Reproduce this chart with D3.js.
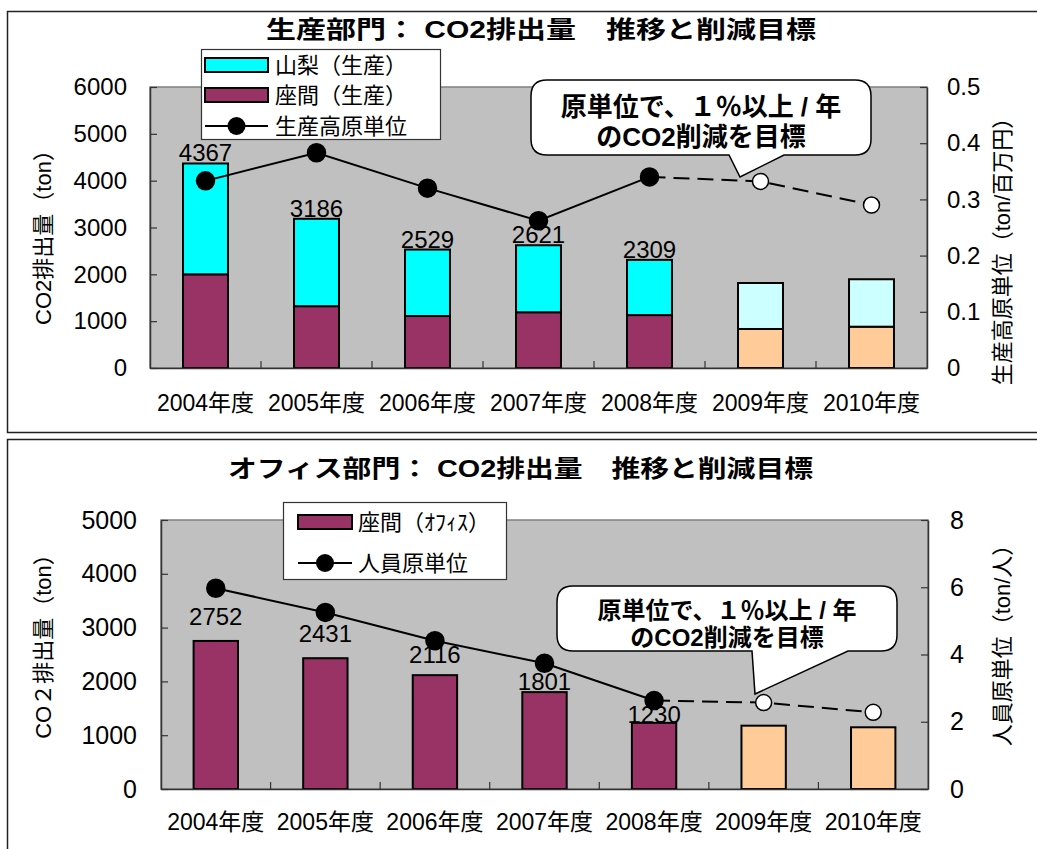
<!DOCTYPE html>
<html><head><meta charset="utf-8">
<script src="https://cdn.jsdelivr.net/npm/d3@7"></script>
<style>
body{margin:0;background:#fff}
text{font-family:"Liberation Sans","Noto Sans CJK JP",sans-serif;}
</style>
</head><body><svg id="c" width="1037" height="849"></svg>
<script>
// ---------------- data ----------------
const categories = ["2004年度","2005年度","2006年度","2007年度","2008年度","2009年度","2010年度"];
const actualYears = 5; // first five are actuals, last two are targets

// 生産部門
const prodZama       = [2000, 1320, 1110, 1190, 1130, 833, 882];
const prodYamanashi  = [2367, 1866, 1419, 1431, 1179, 982, 1013];
const prodLabels     = [4367, 3186, 2529, 2621, 2309];
const prodIntensity  = [0.333, 0.383, 0.320, 0.262, 0.340, 0.332, 0.290];
const prodLeftTicks  = [0,1000,2000,3000,4000,5000,6000];
const prodRightTicks = [0,0.1,0.2,0.3,0.4,0.5];

// オフィス部門
const officeZama      = [2752, 2431, 2116, 1801, 1230, 1177, 1147];
const officeLabels    = [2752, 2431, 2116, 1801, 1230];
const officeIntensity = [5.97, 5.25, 4.41, 3.74, 2.63, 2.57, 2.28];
const officeLeftTicks = [0,1000,2000,3000,4000,5000];
const officeRightTicks= [0,2,4,6,8];

// ---------------- style ----------------
const C = {plot:"#c0c0c0", zama:"#993366", yama:"#00ffff", zamaT:"#ffcc99", yamaT:"#ccffff"};
const officeLabelLift = [16,16,12,2,0];

const svg = d3.select("#c");
svg.append("rect").attr("width",1037).attr("height",849).attr("fill","#fff");
// panel frames
svg.append("rect").attr("x",7.5).attr("y",11.5).attr("width",1040).attr("height",421)
  .attr("fill","none").attr("stroke","#222").attr("stroke-width",1.5);
svg.append("rect").attr("x",7.5).attr("y",439.5).attr("width",1040).attr("height",420)
  .attr("fill","none").attr("stroke","#222").attr("stroke-width",1.5);

function panel(o){
  const g = svg.append("g");
  const x = d3.scaleBand().domain(categories).range([o.l,o.r]);
  const yL = d3.scaleLinear().domain([0,o.yMax]).range([o.b,o.t]);
  const yR = d3.scaleLinear().domain([0,o.rMax]).range([o.b,o.t]);
  const bw = x.bandwidth()*0.405;
  const cx = c => x(c)+x.bandwidth()/2;

  g.append("rect").attr("x",o.l).attr("y",o.t).attr("width",o.r-o.l).attr("height",o.b-o.t)
    .attr("fill",C.plot).attr("stroke","#808080").attr("stroke-width",1.5);

  // stacked bars
  const rows = categories.map((c,i)=>{const r={cat:c,i:i}; o.series.forEach(s=>r[s.key]=s.values[i]); return r;});
  const stack = d3.stack().keys(o.series.map(s=>s.key))(rows);
  stack.forEach((layer,li)=>{
    const s=o.series[li];
    g.selectAll(null).data(layer).join("rect")
      .attr("x",d=>cx(d.data.cat)-bw/2).attr("width",bw)
      .attr("y",d=>yL(d[1])).attr("height",d=>yL(d[0])-yL(d[1]))
      .attr("fill",d=>d.data.i<actualYears?s.color:s.colorT)
      .attr("stroke","#000").attr("stroke-width",2);
  });

  // axes
  const fs=o.tickFont;
  const ax = g.append("g").attr("transform",`translate(${o.l},0)`)
    .call(d3.axisLeft(yL).tickValues(o.leftTicks).tickSize(-7).tickSizeOuter(0).tickPadding(o.lPad).tickFormat(d3.format("d")));
  const ar = g.append("g").attr("transform",`translate(${o.r},0)`)
    .call(d3.axisRight(yR).tickValues(o.rightTicks).tickSize(-7).tickSizeOuter(0).tickPadding(o.rPad).tickFormat(o.rFmt));
  const ab = g.append("g").attr("transform",`translate(0,${o.b})`)
    .call(d3.axisBottom(x).tickSize(0).tickPadding(o.bPad));
  [ax,ar,ab].forEach(a=>{
    a.attr("font-family",null).attr("font-size",null);
    a.selectAll("text").attr("font-size",fs).attr("fill","#000");
    a.select(".domain").attr("stroke","#333").attr("stroke-width",1.5);
    a.selectAll(".tick line").attr("stroke","#333").attr("stroke-width",1.2);
  });
  ab.selectAll("text").attr("font-size",o.catFont);
  // category boundary ticks
  g.selectAll(null).data(categories.slice(1)).join("line")
    .attr("x1",c=>x(c)).attr("x2",c=>x(c)).attr("y1",o.b).attr("y2",o.b-7)
    .attr("stroke","#333").attr("stroke-width",1.2);

  // data labels
  g.selectAll(null).data(o.labels).join("text")
    .attr("x",(d,i)=>cx(categories[i]))
    .attr("y",(d,i)=>yL(d)-o.lift[i])
    .attr("text-anchor","middle").attr("font-size",o.labelFont).text(d=>d);

  // intensity line
  const pts = o.intensity.map((v,i)=>[cx(categories[i]),yR(v)]);
  const line = d3.line();
  g.append("path").attr("d",line(pts.slice(0,actualYears))).attr("fill","none")
    .attr("stroke","#000").attr("stroke-width",2);
  g.append("path").attr("d",line(pts.slice(actualYears-1))).attr("fill","none")
    .attr("stroke","#000").attr("stroke-width",2).attr("stroke-dasharray","16,8");
  g.selectAll(null).data(pts).join("circle")
    .attr("cx",d=>d[0]).attr("cy",d=>d[1]).attr("r",(d,i)=>i<actualYears?9:8)
    .attr("fill",(d,i)=>i<actualYears?"#000":"#fff").attr("stroke","#000").attr("stroke-width",1.5);

  // axis titles
  svg.append("text").attr("transform",`translate(${o.ltx},${o.lty}) rotate(-90)`)
    .attr("text-anchor","middle").attr("dy","0.35em").attr("font-size",22).text(o.leftTitle);
  svg.append("text").attr("transform",`translate(${o.rtx},${o.rty}) rotate(-90)`)
    .attr("text-anchor","middle").attr("dy","0.35em").attr("font-size",22).text(o.rightTitle);
  return {x,yL,yR};
}

function callout(x0,x1,y0,y1,r,t1,tip,t2,lines,bases,fs){
  const p = `M${x0+r},${y0} H${x1-r} Q${x1},${y0} ${x1},${y0+r} V${y1-r} Q${x1},${y1} ${x1-r},${y1} H${t2} L${tip[0]},${tip[1]} L${t1},${y1} H${x0+r} Q${x0},${y1} ${x0},${y1-r} V${y0+r} Q${x0},${y0} ${x0+r},${y0} Z`;
  svg.append("path").attr("d",p).attr("fill","#fff").attr("stroke","#000").attr("stroke-width",1.5);
  lines.forEach((t,i)=>svg.append("text").attr("x",(x0+x1)/2).attr("y",bases[i])
    .attr("text-anchor","middle").attr("font-size",fs).attr("font-weight","bold").text(t));
}

function legend(x,y,w,h,items){
  svg.append("rect").attr("x",x+0.5).attr("y",y+0.5).attr("width",w).attr("height",h)
    .attr("fill","#fff").attr("stroke","#333").attr("stroke-width",1.2);
  items.forEach(it=>{
    if(it.type==="bar"){
      svg.append("rect").attr("x",it.sx).attr("y",it.cy-7).attr("width",it.sw).attr("height",14)
        .attr("fill",it.color).attr("stroke","#000").attr("stroke-width",2);
    } else {
      svg.append("line").attr("x1",it.sx).attr("x2",it.sx+it.sw).attr("y1",it.cy).attr("y2",it.cy)
        .attr("stroke","#000").attr("stroke-width",2);
      svg.append("circle").attr("cx",it.sx+it.sw/2).attr("cy",it.cy).attr("r",9).attr("fill","#000");
    }
    svg.append("text").attr("x",it.tx).attr("y",it.cy+8).attr("font-size",it.fs).text(it.label);
  });
}

// ---------- 生産部門 ----------
svg.append("text").attr("x",266).attr("y",38).attr("font-size",24).attr("font-weight","bold")
  .attr("textLength",550).attr("lengthAdjust","spacingAndGlyphs").style("white-space","pre")
  .text("生産部門： CO2排出量　推移と削減目標");
panel({l:150,r:927,t:87,b:368,yMax:6000,rMax:0.5,leftTicks:prodLeftTicks,rightTicks:prodRightTicks,
  rFmt:d3.format(".1~f"),lPad:23,rPad:20,bPad:27,tickFont:24,catFont:23,labelFont:24,
  series:[{key:"zama",values:prodZama,color:C.zama,colorT:C.zamaT},
          {key:"yama",values:prodYamanashi,color:C.yama,colorT:C.yamaT}],
  labels:prodLabels,lift:[2,2,2,2,2],intensity:prodIntensity,
  leftTitle:"CO2排出量（ton）",ltx:43,lty:232,rightTitle:"生産高原単位（ton/百万円）",rtx:1002,rty:246});
legend(201,49,239,90,[
  {type:"bar",color:C.yama,sx:205,sw:63,cy:65,tx:275,fs:22,label:"山梨（生産）"},
  {type:"bar",color:C.zama,sx:205,sw:63,cy:95,tx:275,fs:22,label:"座間（生産）"},
  {type:"line",sx:205,sw:63,cy:126,tx:275,fs:22,label:"生産高原単位"}]);
callout(531,871,80,155,16,729,[740,177],784,["原単位で、１％以上 / 年","のCO2削減を目標"],[116,146],26);

// ---------- オフィス部門 ----------
svg.append("text").attr("x",228).attr("y",477).attr("font-size",24).attr("font-weight","bold")
  .attr("textLength",585).attr("lengthAdjust","spacingAndGlyphs").style("white-space","pre")
  .text("オフィス部門： CO2排出量　推移と削減目標");
panel({l:161,r:928,t:520,b:789,yMax:5000,rMax:8,leftTicks:officeLeftTicks,rightTicks:officeRightTicks,
  rFmt:d3.format("d"),lPad:24,rPad:22,bPad:25,tickFont:25,catFont:23,labelFont:24,
  series:[{key:"zama",values:officeZama,color:C.zama,colorT:C.zamaT}],
  labels:officeLabels,lift:officeLabelLift,intensity:officeIntensity,
  leftTitle:"CO２排出量（ton）",ltx:43,lty:641,rightTitle:"人員原単位（ton/人）",rtx:1002,rty:640});
legend(283,502,223,77,[
  {type:"bar",color:C.zama,sx:298,sw:54,cy:522,tx:358,fs:22,label:"座間（ｵﾌｨｽ）"},
  {type:"line",sx:298,sw:54,cy:563,tx:358,fs:22,label:"人員原単位"}]);
callout(557,897,586,651,16,752,[755,694],848,["原単位で、１％以上 / 年","のCO2削減を目標"],[619,646],24);
</script></body></html>
